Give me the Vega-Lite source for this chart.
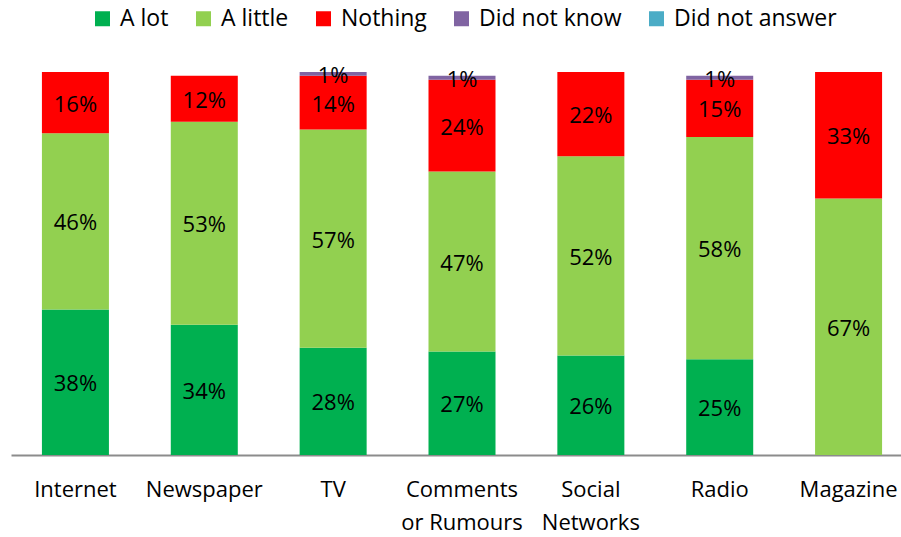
{
  "$schema": "https://vega.github.io/schema/vega-lite/v6.json",
  "autosize": "none",
  "width": 902,
  "height": 383,
  "padding": {"left": 11, "top": 72, "right": 0, "bottom": 82},
  "background": "white",
  "config": {
    "font": "Open Sans",
    "view": {"stroke": null}
  },
  "data": {
    "values": [
      {"source": "Internet", "answer": "A lot", "pct": 38},
      {"source": "Internet", "answer": "A little", "pct": 46},
      {"source": "Internet", "answer": "Nothing", "pct": 16},
      {"source": "Newspaper", "answer": "A lot", "pct": 34},
      {"source": "Newspaper", "answer": "A little", "pct": 53},
      {"source": "Newspaper", "answer": "Nothing", "pct": 12},
      {"source": "TV", "answer": "A lot", "pct": 28},
      {"source": "TV", "answer": "A little", "pct": 57},
      {"source": "TV", "answer": "Nothing", "pct": 14},
      {"source": "TV", "answer": "Did not know", "pct": 1},
      {"source": "Comments or Rumours", "answer": "A lot", "pct": 27},
      {"source": "Comments or Rumours", "answer": "A little", "pct": 47},
      {"source": "Comments or Rumours", "answer": "Nothing", "pct": 24},
      {"source": "Comments or Rumours", "answer": "Did not know", "pct": 1},
      {"source": "Social Networks", "answer": "A lot", "pct": 26},
      {"source": "Social Networks", "answer": "A little", "pct": 52},
      {"source": "Social Networks", "answer": "Nothing", "pct": 22},
      {"source": "Radio", "answer": "A lot", "pct": 25},
      {"source": "Radio", "answer": "A little", "pct": 58},
      {"source": "Radio", "answer": "Nothing", "pct": 15},
      {"source": "Radio", "answer": "Did not know", "pct": 1},
      {"source": "Magazine", "answer": "A little", "pct": 67},
      {"source": "Magazine", "answer": "Nothing", "pct": 33}
    ]
  },
  "transform": [
    {"calculate": "indexof(['A lot','A little','Nothing','Did not know','Did not answer'], datum.answer)", "as": "ord"},
    {"calculate": "datum.pct + '%'", "as": "label"}
  ],
  "encoding": {
    "x": {
      "field": "source",
      "type": "nominal",
      "sort": ["Internet", "Newspaper", "TV", "Comments or Rumours", "Social Networks", "Radio", "Magazine"],
      "scale": {"paddingInner": 0.48, "paddingOuter": 0.24},
      "axis": {
        "title": null,
        "labelAngle": 0,
        "labelFontSize": 22,
        "labelColor": "#000000",
        "labelPadding": 24,
        "labelLineHeight": 33,
        "labelLimit": 300,
        "ticks": false,
        "domainColor": "#8c8c8c",
        "domainWidth": 2,
        "labelExpr": "datum.label == 'Comments or Rumours' ? ['Comments', 'or Rumours'] : datum.label == 'Social Networks' ? ['Social', 'Networks'] : datum.label"
      }
    },
    "y": {
      "field": "pct",
      "type": "quantitative",
      "stack": "zero",
      "scale": {"domain": [0, 100], "nice": false},
      "axis": null
    },
    "order": {"field": "ord", "type": "quantitative", "sort": "ascending"}
  },
  "layer": [
    {
      "mark": {"type": "bar"},
      "encoding": {
        "color": {
          "field": "answer",
          "type": "nominal",
          "scale": {
            "domain": ["A lot", "A little", "Nothing", "Did not know", "Did not answer"],
            "range": ["#00B050", "#92D050", "#FF0000", "#8064A2", "#4BACC6"]
          },
          "legend": {
            "title": null,
            "orient": "none",
            "direction": "horizontal",
            "legendX": 80,
            "legendY": -65,
            "symbolType": "square",
            "symbolSize": 225,
            "symbolStrokeWidth": 0,
            "labelFontSize": 23,
            "labelColor": "#000000",
            "labelOffset": 6,
            "columnPadding": 23,
            "labelLimit": 300
          }
        }
      }
    },
    {
      "mark": {"type": "text", "fontSize": 22, "color": "#000000", "baseline": "middle", "dy": 2},
      "encoding": {
        "y": {"field": "pct", "type": "quantitative", "stack": "zero", "bandPosition": 0.5},
        "text": {"field": "label"}
      }
    }
  ]
}
